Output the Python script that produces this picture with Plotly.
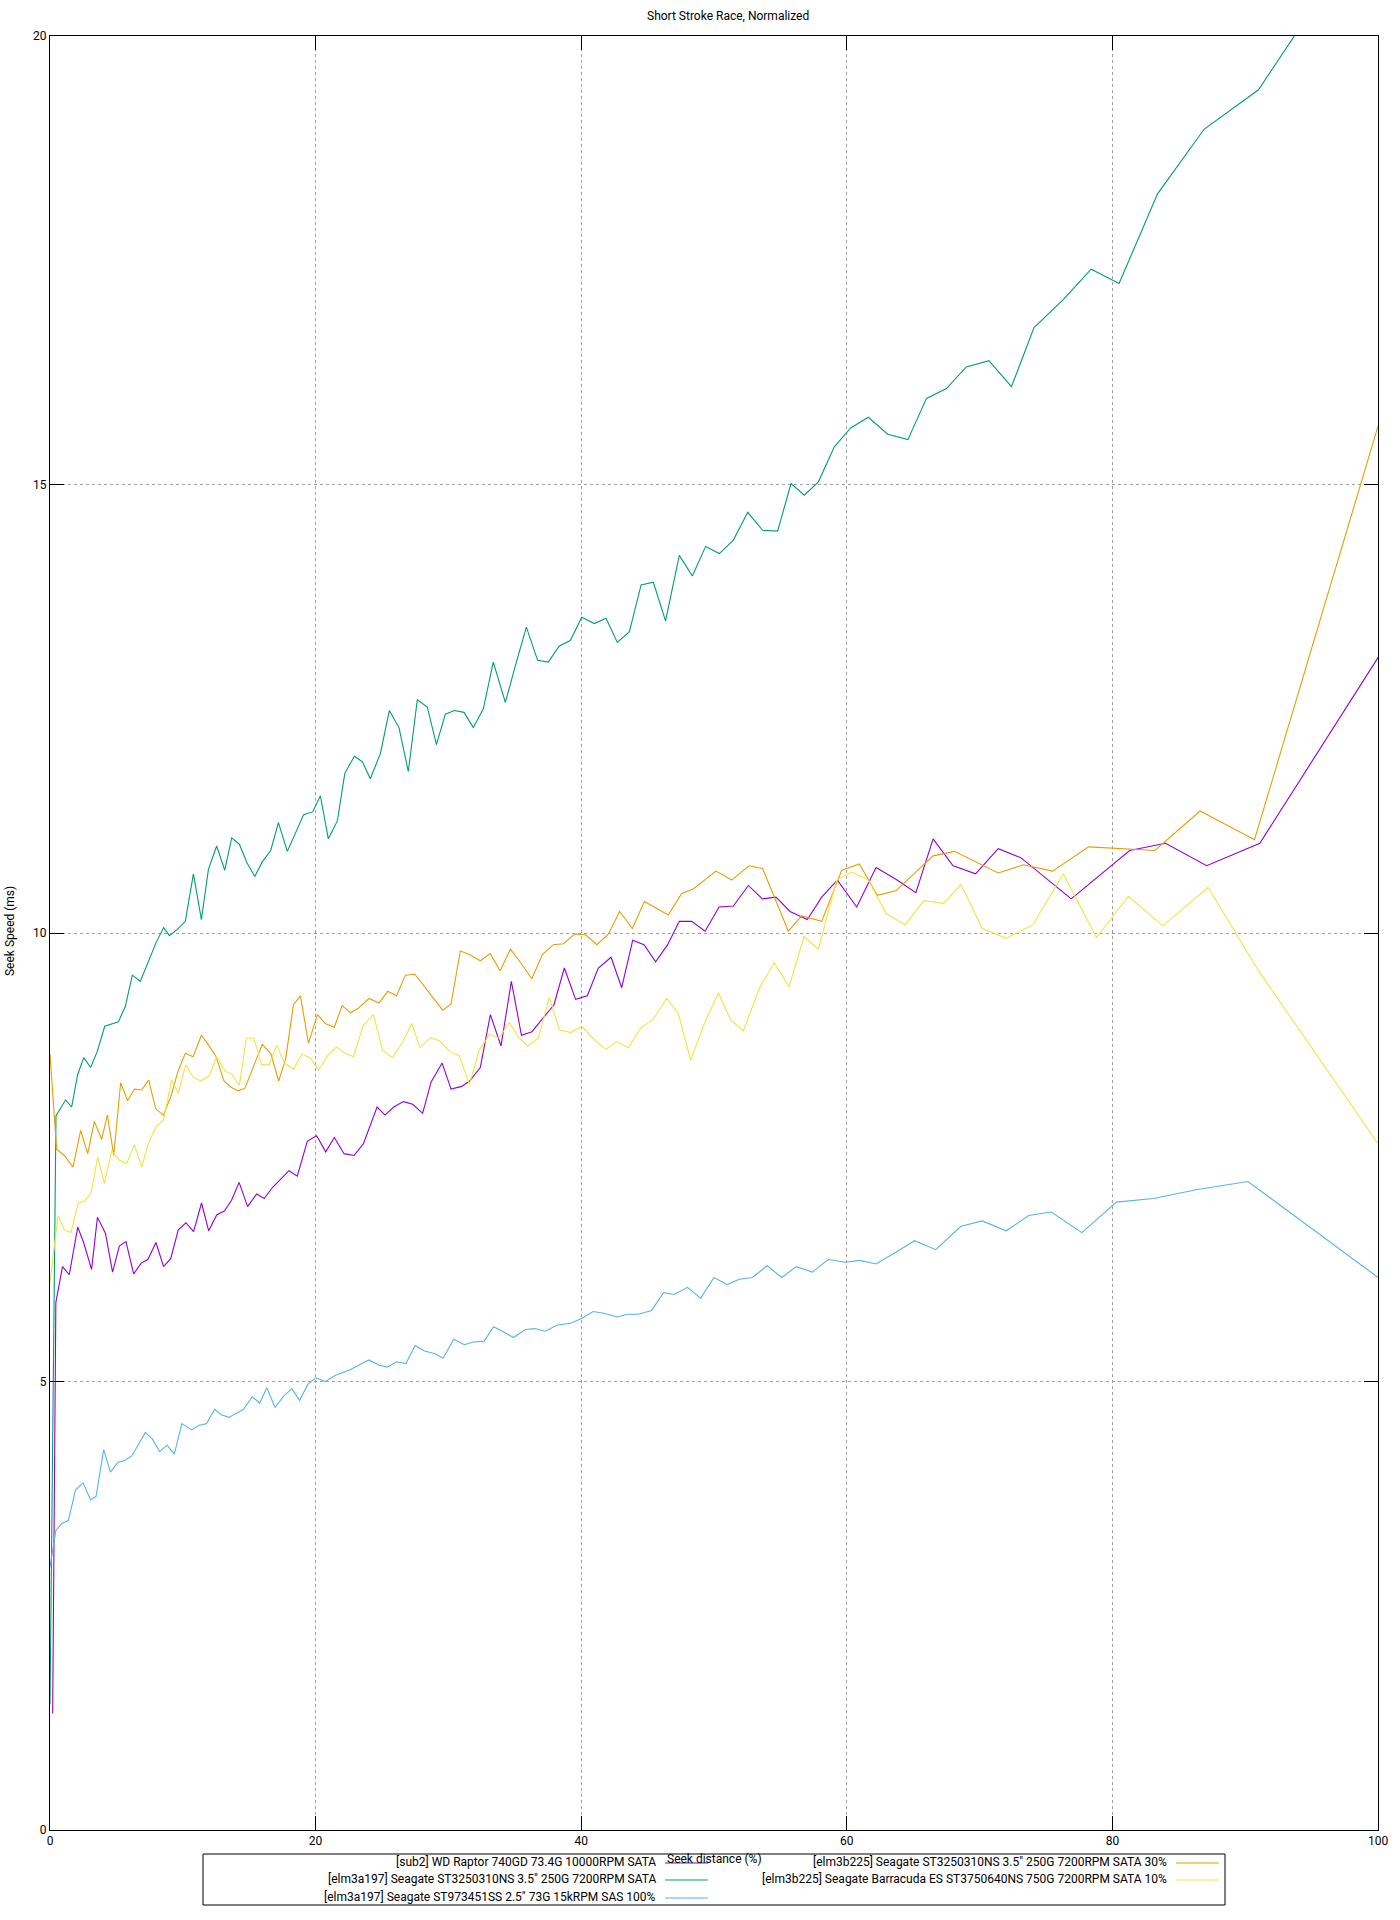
import plotly.graph_objects as go

# ---------------- data ----------------
sub2_x = [0.2, 0.44, 0.94, 1.45, 2.09, 2.53, 3.13, 3.57, 4.18, 4.71, 5.22, 5.72, 6.3, 6.87, 7.37, 7.98, 8.55, 9.09, 9.66, 10.24,
          10.81, 11.41, 11.95, 12.56, 13.13, 13.67, 14.24, 14.88, 15.56, 16.13, 16.73, 17.4, 18.0, 18.62, 19.38, 20.08, 20.76,
          21.41, 22.14, 22.9, 23.6, 24.63, 25.23, 25.88, 26.61, 27.31, 28.06, 28.7, 29.53, 30.2, 31.0, 31.6, 32.4, 33.16,
          33.96, 34.74, 35.5, 36.29, 37.15, 37.95, 38.73, 39.58, 40.46, 41.29, 42.25, 43.05, 43.88, 44.73, 45.61, 46.51,
          47.39, 48.32, 49.33, 50.38, 51.46, 52.59, 53.64, 54.67, 55.72, 57.03, 58.11, 59.29, 60.75, 62.2, 63.7, 65.2,
          66.5, 68.0, 69.7, 71.4, 73.1, 76.9, 81.3, 84.0, 87.1, 91.1, 100]
sub2_y = [1.3, 5.88, 6.28, 6.19, 6.72, 6.55, 6.25, 6.83, 6.65, 6.22, 6.51, 6.56, 6.20, 6.32, 6.36, 6.55, 6.28, 6.37, 6.69, 6.77,
          6.67, 6.99, 6.68, 6.86, 6.90, 7.02, 7.22, 6.95, 7.09, 7.04, 7.16, 7.26, 7.35, 7.29, 7.68, 7.74, 7.56,
          7.72, 7.54, 7.52, 7.65, 8.06, 7.97, 8.06, 8.12, 8.09, 7.99, 8.34, 8.55, 8.26, 8.29, 8.35, 8.50, 9.09,
          8.74, 9.46, 8.86, 8.90, 9.05, 9.20, 9.61, 9.26, 9.30, 9.61, 9.73, 9.39, 9.92, 9.87, 9.68, 9.87,
          10.13, 10.13, 10.02, 10.29, 10.30, 10.53, 10.38, 10.40, 10.24, 10.15, 10.40, 10.59, 10.29, 10.73, 10.60, 10.45,
          11.05, 10.75, 10.66, 10.94, 10.84, 10.38, 10.92, 11.0, 10.75, 11.0, 13.07]

a197_x = [0, 0.45, 1.18, 1.63, 2.08, 2.54, 3.06, 3.56, 4.12, 5.15, 5.67, 6.2, 6.8, 7.38, 7.98, 8.56, 8.99, 9.59, 10.19, 10.8,
          11.4, 11.93, 12.55, 13.16, 13.68, 14.26, 14.84, 15.42, 15.97, 16.62, 17.2, 17.87, 18.5, 19.1, 19.78, 20.36, 20.96,
          21.64, 22.2, 22.92, 23.52, 24.12, 24.88, 25.55, 26.28, 26.98, 27.66, 28.41, 29.1, 29.77, 30.45, 31.18, 31.88,
          32.63, 33.38, 34.29, 35.06, 35.87, 36.72, 37.52, 38.35, 39.18, 40.04, 40.99, 41.87, 42.72, 43.63, 44.51, 45.43,
          46.35, 47.39, 48.37, 49.37, 50.4, 51.46, 52.54, 53.66, 54.79, 55.8, 56.8, 57.86, 59.06, 60.29, 61.62, 63.08,
          64.6, 66.0, 67.5, 69.0, 70.7, 72.4, 74.1, 76.3, 78.4, 80.5, 83.4, 86.9, 91.0, 100]
a197_y = [1.4, 7.96, 8.14, 8.06, 8.42, 8.61, 8.50, 8.68, 8.96, 9.01, 9.18, 9.53, 9.46, 9.67, 9.89, 10.06, 9.97, 10.04, 10.13, 10.66,
          10.15, 10.71, 10.97, 10.70, 11.06, 10.99, 10.78, 10.63, 10.79, 10.92, 11.23, 10.91, 11.13, 11.32, 11.35, 11.53, 11.05,
          11.25, 11.78, 11.97, 11.91, 11.72, 12.0, 12.48, 12.29, 11.80, 12.60, 12.52, 12.10, 12.44, 12.48, 12.46, 12.29,
          12.50, 13.02, 12.57, 12.99, 13.41, 13.04, 13.02, 13.20, 13.26, 13.52, 13.45, 13.51, 13.24, 13.36, 13.88, 13.91,
          13.48, 14.21, 13.98, 14.31, 14.23, 14.38, 14.69, 14.49, 14.48, 15.01, 14.88, 15.03, 15.42, 15.63, 15.75, 15.56,
          15.50, 15.96, 16.07, 16.31, 16.38, 16.09, 16.75, 17.06, 17.40, 17.24, 18.24, 18.96, 19.40, 21.4]

sas_x = [0, 0.44, 0.91, 1.38, 1.92, 2.49, 3.06, 3.47, 4.04, 4.55, 5.12, 5.62, 6.16, 7.17, 7.71, 8.25, 8.82, 9.36, 9.93, 10.67,
         11.18, 11.78, 12.39, 12.90, 13.47, 14.04, 14.58, 15.22, 15.79, 16.33, 16.94, 17.61, 18.22, 18.79, 19.43, 20.03,
         20.74, 21.5, 22.6, 24.0, 24.8, 25.4, 26.1, 26.8, 27.5, 28.2, 29.0, 29.6, 30.4, 31.2, 31.9, 32.7, 33.4, 34.2, 34.9,
         35.8, 36.5, 37.3, 38.2, 39.2, 40.0, 40.9, 41.7, 42.7, 43.5, 44.3, 45.3, 46.2, 47.0, 48.0, 49.0, 50.0, 51.0, 51.9,
         52.9, 54.0, 55.1, 56.2, 57.4, 58.6, 59.9, 61.0, 62.2, 63.7, 65.1, 66.7, 68.6, 70.2, 72.0, 73.7, 75.4, 77.7, 80.3,
         83.1, 86.4, 90.2, 100]
sas_y = [2.93, 3.34, 3.42, 3.45, 3.79, 3.87, 3.68, 3.72, 4.24, 3.99, 4.10, 4.12, 4.17, 4.43, 4.36, 4.22, 4.29, 4.19, 4.53, 4.46,
         4.51, 4.53, 4.69, 4.63, 4.60, 4.65, 4.69, 4.83, 4.76, 4.93, 4.71, 4.84, 4.92, 4.79, 4.97, 5.04,
         5.00, 5.07, 5.13, 5.24, 5.18, 5.16, 5.22, 5.20, 5.40, 5.34, 5.31, 5.26, 5.47, 5.41, 5.44, 5.45, 5.61, 5.55, 5.49,
         5.58, 5.59, 5.56, 5.63, 5.65, 5.70, 5.78, 5.76, 5.72, 5.75, 5.75, 5.79, 5.99, 5.97, 6.05, 5.93, 6.16, 6.08, 6.14,
         6.16, 6.29, 6.16, 6.28, 6.22, 6.36, 6.33, 6.35, 6.31, 6.44, 6.57, 6.47, 6.73, 6.79, 6.68, 6.85, 6.89, 6.66, 7.00,
         7.04, 7.14, 7.23, 6.16]

b225_30_x = [0, 0.5, 1.08, 1.73, 2.31, 2.84, 3.34, 3.89, 4.32, 4.8, 5.32, 5.85, 6.35, 6.9, 7.43, 7.96, 8.54, 9.11, 9.64, 10.19,
             10.77, 11.4, 11.95, 12.48, 13.1, 13.63, 14.18, 14.68, 15.37, 15.99, 16.64, 17.22, 17.75, 18.33, 18.86, 19.46,
             20.14, 20.72, 21.41, 22.0, 22.63, 23.21, 24.02, 24.77, 25.43, 26.1, 26.76, 27.48, 29.57, 30.2, 30.9, 31.58,
             32.41, 33.14, 33.9, 34.67, 35.48, 36.28, 37.08, 37.91, 38.67, 39.53, 40.33, 41.18, 42.06, 42.89, 43.85, 44.76,
             46.56, 47.57, 48.44, 50.15, 51.33, 52.64, 53.66, 55.6, 56.6, 58.11, 59.62, 60.95, 62.3, 63.7, 66.5, 68.1,
             71.4, 73.3, 75.5, 78.2, 83.2, 86.6, 90.7, 100]
b225_30_y = [8.65, 7.59, 7.52, 7.39, 7.80, 7.54, 7.90, 7.70, 7.97, 7.52, 8.33, 8.13, 8.26, 8.25, 8.36, 8.04, 7.97, 8.18, 8.46, 8.66,
             8.62, 8.86, 8.75, 8.63, 8.35, 8.28, 8.24, 8.27, 8.53, 8.76, 8.65, 8.35, 8.60, 9.20, 9.30, 8.77,
             9.09, 8.99, 8.95, 9.19, 9.11, 9.16, 9.27, 9.22, 9.35, 9.30, 9.53, 9.54, 9.14, 9.21, 9.80, 9.76,
             9.69, 9.77, 9.58, 9.82, 9.66, 9.49, 9.76, 9.87, 9.88, 9.99, 9.98, 9.87, 9.99, 10.24, 10.05, 10.35,
             10.20, 10.44, 10.49, 10.69, 10.59, 10.75, 10.72, 10.02, 10.19, 10.13, 10.70, 10.77, 10.42, 10.47, 10.86, 10.91,
             10.67, 10.76, 10.69, 10.96, 10.92, 11.36, 11.04, 15.65]

b225_10_x = [0, 0.6, 1.08, 1.58, 2.13, 2.59, 3.09, 3.59, 4.09, 4.64, 5.2, 5.77, 6.35, 6.9, 7.4, 7.98, 8.54, 9.16, 9.67, 10.22,
             10.8, 11.37, 12.0, 12.55, 13.18, 13.68, 14.26, 14.79, 15.34, 15.94, 16.5, 17.07, 17.65, 18.33, 18.96, 19.59,
             20.22, 20.93, 21.58, 22.21, 22.84, 23.6, 24.35, 25.05, 25.78, 26.54, 27.25, 27.86, 28.63, 29.33, 30.09, 30.83,
             31.58, 32.31, 33.1, 33.81, 34.6, 35.27, 35.98, 36.77, 37.6, 38.36, 39.21, 40.04, 40.99, 41.87, 42.67, 43.55,
             44.48, 45.43, 46.44, 47.32, 48.24, 49.33, 50.33, 51.26, 52.21, 53.41, 54.54, 55.65, 56.78, 57.86, 59.24, 60.37,
             61.62, 62.95, 64.4, 65.8, 67.3, 68.6, 70.2, 72.0, 74.0, 76.3, 78.8, 81.2, 83.8, 87.2, 91.0, 100]
b225_10_y = [6.1, 6.85, 6.69, 6.66, 6.99, 7.01, 7.10, 7.50, 7.21, 7.57, 7.47, 7.43, 7.64, 7.39, 7.65, 7.84, 7.91, 8.36, 8.21, 8.53,
             8.39, 8.35, 8.41, 8.62, 8.46, 8.43, 8.30, 8.83, 8.83, 8.53, 8.53, 8.75, 8.55, 8.48, 8.65, 8.61,
             8.47, 8.64, 8.73, 8.66, 8.62, 8.97, 9.09, 8.69, 8.61, 8.78, 8.99, 8.72, 8.83, 8.80, 8.68, 8.63,
             8.31, 8.69, 8.87, 8.83, 9.00, 8.84, 8.74, 8.83, 9.28, 8.92, 8.89, 8.96, 8.81, 8.70, 8.79, 8.72,
             8.94, 9.04, 9.27, 9.10, 8.58, 9.01, 9.33, 9.03, 8.91, 9.38, 9.67, 9.40, 9.96, 9.82, 10.59, 10.68,
             10.59, 10.22, 10.09, 10.36, 10.33, 10.54, 10.05, 9.94, 10.09, 10.66, 9.95, 10.41, 10.08, 10.51, 9.58, 7.65]

series_names = [
    '[sub2] WD Raptor 740GD 73.4G 10000RPM SATA',
    '[elm3a197] Seagate ST3250310NS 3.5" 250G 7200RPM SATA',
    '[elm3a197] Seagate ST973451SS 2.5" 73G 15kRPM SAS 100%',
    '[elm3b225] Seagate ST3250310NS 3.5" 250G 7200RPM SATA 30%',
    '[elm3b225] Seagate Barracuda ES ST3750640NS 750G 7200RPM SATA 10%',
]
series_x = [sub2_x, a197_x, sas_x, b225_30_x, b225_10_x]
series_y = [sub2_y, a197_y, sas_y, b225_30_y, b225_10_y]
colors = ['#9400d3', '#009e73', '#56b4e9', '#e69f00', '#f0e442']

title_text = 'Short Stroke Race, Normalized'
x_title = 'Seek distance (%)'
y_title = 'Seek Speed (ms)'

# ---------------- figure ----------------
W, H = 1400, 1920
L, R, T, B = 50, 22, 36, 90
PW, PH = W - L - R, H - T - B
FONT = 'Roboto'


def px_x(px):
    return (px - L) / PW


def px_y(py):
    return (H - B - py) / PH


fig = go.Figure()
for name, xs, ys, c in zip(series_names, series_x, series_y, colors):
    fig.add_trace(go.Scatter(x=xs, y=ys, mode='lines', name=name,
                             line=dict(color=c, width=1.1), showlegend=False))

axis_common = dict(
    showline=True, linecolor='black', linewidth=1, mirror='ticks',
    ticks='inside', ticklen=14, tickcolor='black', tickwidth=1,
    showgrid=True, gridcolor='#a0a0a0', griddash='dot', gridwidth=1,
    zeroline=False, tickfont=dict(family=FONT, size=12, color='black'),
)
fig.update_xaxes(range=[0, 100], dtick=20, tick0=0, **axis_common)
fig.update_yaxes(range=[0, 20], dtick=5, tick0=0, **axis_common)

annotations = [
    dict(text=title_text, x=px_x(728), y=px_y(16), xref='paper', yref='paper',
         showarrow=False, font=dict(family=FONT, size=12, color='black'), xanchor='center', yanchor='middle'),
    dict(text=y_title, x=px_x(10), y=px_y(931), xref='paper', yref='paper', textangle=-90,
         showarrow=False, font=dict(family=FONT, size=12, color='black'), xanchor='center', yanchor='middle'),
]
shapes = [
    dict(type='rect', xref='paper', yref='paper', x0=px_x(203), x1=px_x(1225), y0=px_y(1854), y1=px_y(1905),
         line=dict(color='black', width=1), fillcolor='rgba(0,0,0,0)', layer='above'),
]

# legend: two columns, text right-aligned, sample line on the right
col_text_right = [658, 1169]
col_line = [(665, 708), (1176, 1219)]
row_y = [1862, 1879, 1897]
for i, (name, c) in enumerate(zip(series_names, colors)):
    col, row = (0, i) if i < 3 else (1, i - 3)
    yy = row_y[row]
    annotations.append(dict(text=name, x=px_x(col_text_right[col]), y=px_y(yy), xref='paper', yref='paper',
                            showarrow=False, xanchor='right', yanchor='middle',
                            font=dict(family=FONT, size=12, color='black')))
    shapes.append(dict(type='line', xref='paper', yref='paper', x0=px_x(col_line[col][0]), x1=px_x(col_line[col][1]),
                       y0=px_y(yy + 1), y1=px_y(yy + 1), line=dict(color=c, width=1.1)))

annotations.append(dict(text=x_title, x=px_x(714), y=px_y(1859), xref='paper', yref='paper',
                        showarrow=False, xanchor='center', yanchor='middle',
                        font=dict(family=FONT, size=12, color='black')))

fig.update_layout(
    width=W, height=H, margin=dict(l=L, r=R, t=T, b=B),
    paper_bgcolor='white', plot_bgcolor='white',
    annotations=annotations, shapes=shapes, showlegend=False,
    font=dict(family=FONT, size=12, color='black'),
)

fig.write_html('out.html', include_plotlyjs=True,
               config={'displayModeBar': False},
               post_script="document.body.style.margin='0';")
